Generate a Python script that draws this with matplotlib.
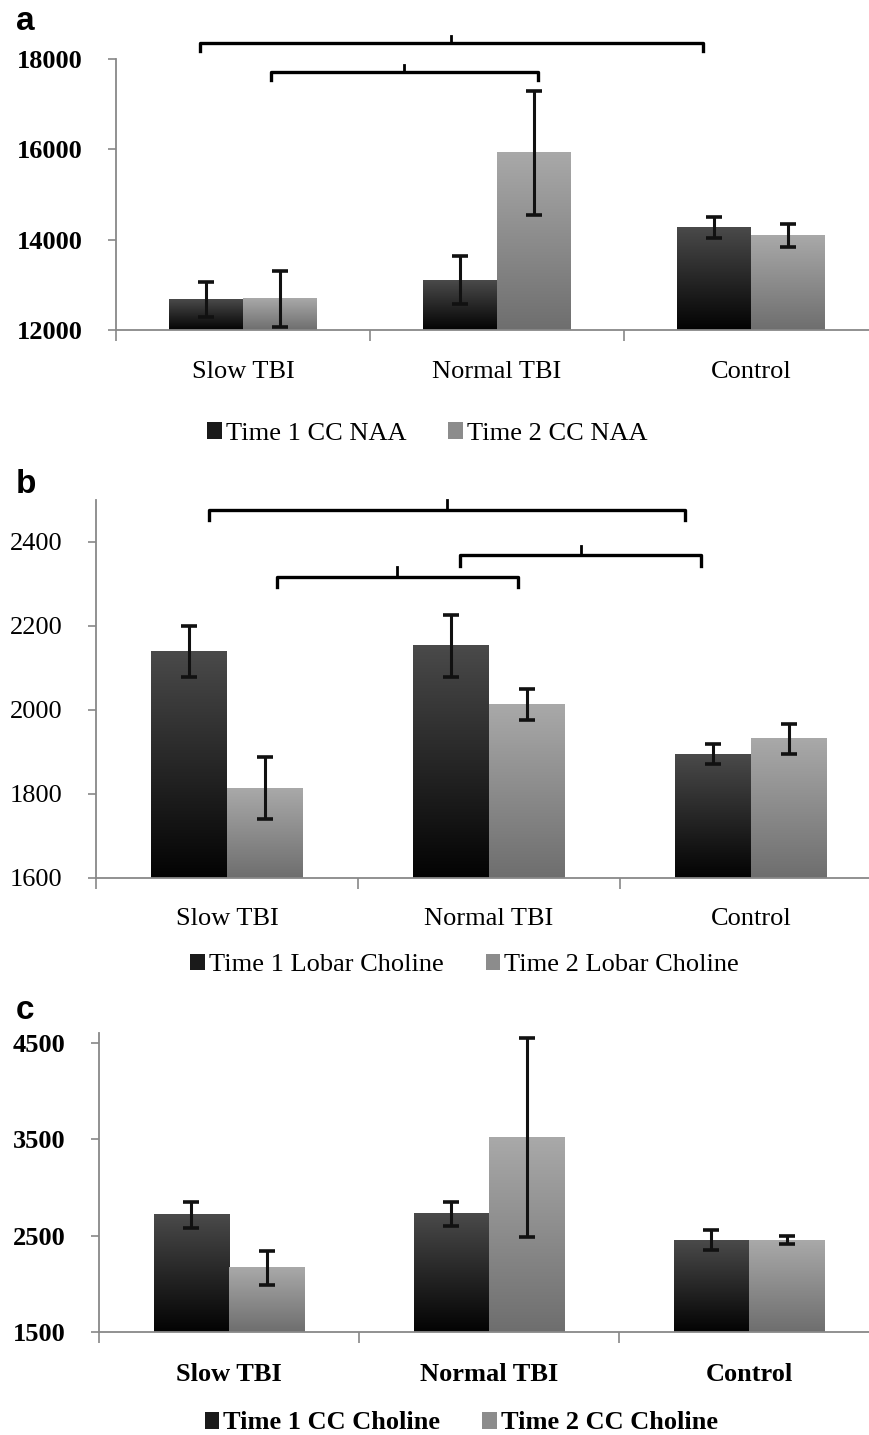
import numpy as np
import matplotlib
matplotlib.use("Agg")
import matplotlib.pyplot as plt
from matplotlib.patches import Patch

groups = ["Slow TBI", "Normal TBI", "Control"]

# panel a: CC NAA
naa_t1 = [12680, 13105, 14262]
naa_t1_err = [390, 530, 230]
naa_t2 = [12693, 15920, 14093]
naa_t2_err = [620, 1370, 250]
naa_ticks = [12000, 14000, 16000, 18000]
naa_brackets = [(-0.17, 1.81, 18350), (0.11, 1.16, 17710)]

# panel b: lobar choline
lob_t1 = [2139, 2153, 1895]
lob_t1_err = [60, 74, 23]
lob_t2 = [1814, 2013, 1931]
lob_t2_err = [73, 36, 35]
lob_ticks = [1600, 1800, 2000, 2200, 2400]
lob_brackets = [(-0.07, 1.75, 2477), (0.19, 1.11, 2317), (0.89, 1.81, 2368)]

# panel c: CC choline
cho_t1 = [2714, 2724, 2454]
cho_t1_err = [137, 125, 100]
cho_t2 = [2166, 3515, 2454]
cho_t2_err = [177, 1035, 45]
cho_ticks = [1500, 2500, 3500, 4500]

plt.rcParams["font.family"] = ["Liberation Serif", "DejaVu Serif"]

fig = plt.figure(figsize=(8.7, 14.35), dpi=100)

W = 0.29


def gradient_bar(ax, x, top, base, c_bottom, c_top):
    g = np.linspace(0, 1, 256).reshape(-1, 1)
    cb = np.array(matplotlib.colors.to_rgb(c_bottom))
    ct = np.array(matplotlib.colors.to_rgb(c_top))
    img = cb + g[..., None] * (ct - cb)
    ax.imshow(img, extent=[x - W / 2, x + W / 2, base, top], origin="lower",
              aspect="auto", zorder=2, interpolation="bilinear")


def panel(rect, t1, e1, t2, e2, ylim, ticks, brackets, labels, letter, bold,
          ybold, legend_xy):
    ax = fig.add_axes(rect)
    x = np.arange(len(groups))
    wt = "bold" if bold else "normal"
    for xi, v in zip(x - W / 2, t1):
        gradient_bar(ax, xi, v, ylim[0], "#030303", "#4a4a4a")
    for xi, v in zip(x + W / 2, t2):
        gradient_bar(ax, xi, v, ylim[0], "#6e6e6e", "#a9a9a9")
    ax.errorbar(x - W / 2, t1, yerr=e1, fmt="none", ecolor="#111111",
                elinewidth=2.2, capsize=6, capthick=2.6, zorder=3)
    ax.errorbar(x + W / 2, t2, yerr=e2, fmt="none", ecolor="#111111",
                elinewidth=2.2, capsize=6, capthick=2.6, zorder=3)
    for x0, x1, y in brackets:
        h = (ylim[1] - ylim[0]) * 0.028
        ax.plot([x0, x0, x1, x1], [y - h, y, y, y - h], color="black",
                lw=2.4, clip_on=False, zorder=4)
        xm = (x0 + x1) / 2
        ax.plot([xm, xm], [y, y + h * 0.9], color="black", lw=2.0,
                clip_on=False, zorder=4)
    ax.set_xlim(-0.5, 2.5)
    ax.set_ylim(*ylim)
    ax.set_yticks(ticks)
    ax.set_yticklabels([str(t) for t in ticks], fontsize=19,
                       fontweight="bold" if ybold else "normal")
    ax.set_xticks(x)
    ax.set_xticklabels(groups, fontsize=19, fontweight=wt)
    ax.set_xticks([-0.5, 0.5, 1.5, 2.5], minor=True)
    ax.tick_params(axis="x", which="major", length=0, pad=22)
    ax.tick_params(axis="x", which="minor", length=8, width=1.2, color="#888888")
    ax.tick_params(axis="y", length=6, width=1.2, color="#888888", pad=18)
    for s in ["top", "right"]:
        ax.spines[s].set_visible(False)
    for s in ["left", "bottom"]:
        ax.spines[s].set_color("#888888")
        ax.spines[s].set_linewidth(1.3)
    handles = [Patch(facecolor="#1a1a1a", edgecolor="none"),
               Patch(facecolor="#8c8c8c", edgecolor="none")]
    fig.legend(handles, labels, loc="center", bbox_to_anchor=legend_xy, ncol=2,
               frameon=False, handlelength=0.55, handleheight=0.6,
               handletextpad=0.15, columnspacing=1.6,
               prop={"size": 19, "weight": wt})
    fig.text(0.018, rect[1] + rect[3] + letter[1], letter[0], fontsize=24,
             fontweight="bold", family="Liberation Sans", va="center")
    return ax


panel([0.1333, 0.770, 0.876, 0.1889], naa_t1, naa_t1_err, naa_t2, naa_t2_err,
      (12000, 18000), naa_ticks, naa_brackets,
      ["Time 1 CC NAA", "Time 2 CC NAA"], ("a", 0.026), False, True,
      (0.491, 0.698))

panel([0.1103, 0.3882, 0.9034, 0.2634], lob_t1, lob_t1_err, lob_t2, lob_t2_err,
      (1600, 2500), lob_ticks, lob_brackets,
      ["Time 1 Lobar Choline", "Time 2 Lobar Choline"], ("b", 0.011), False,
      False, (0.534, 0.3275))

panel([0.1138, 0.0718, 0.8966, 0.2083], cho_t1, cho_t1_err, cho_t2, cho_t2_err,
      (1500, 4600), cho_ticks, [],
      ["Time 1 CC Choline", "Time 2 CC Choline"], ("c", 0.016), True, True,
      (0.530, 0.0084))

fig.savefig("out.png", dpi=100)
